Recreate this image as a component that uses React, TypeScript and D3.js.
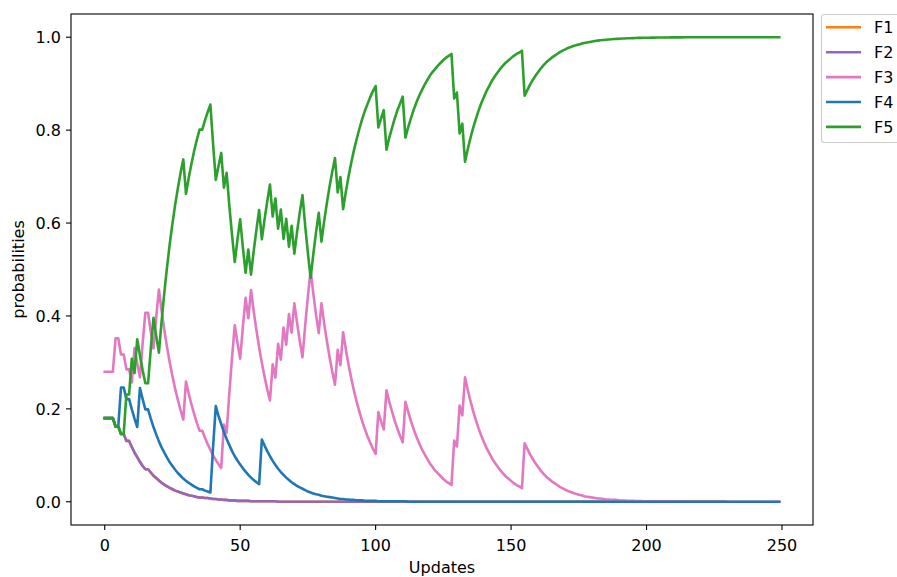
import React from 'react';
import * as d3 from 'd3';

// ---- data (one value per update, t = 0..249) ----
const seriesNames = ['F1', 'F2', 'F3', 'F4', 'F5'];
const seriesColors = ['#ff7f0e', '#9467bd', '#e377c2', '#1f77b4', '#2ca02c'];
const xTicks = [0, 50, 100, 150, 200, 250];
const yTicks = [0, 0.2, 0.4, 0.6, 0.8, 1.0];
const yTickLabels = ['0.0', '0.2', '0.4', '0.6', '0.8', '1.0'];

const f1 = [
  .18,.18,.18,.18,.162,.162,.146,.146,.131,.131,
  .118,.106,.096,.086,.077,.07,.07,.063,.056,.051,
  .046,.041,.037,.033,.03,.027,.024,.022,.02,.018,
  .016,.014,.013,.012,.01,.009,.009,.008,.008,.007,
  .006,.006,.005,.005,.004,.004,.003,.003,.003,.002,
  .002,.002,.002,.002,.001,.001,.001,.001,.001,.001,
  .001,.001,.001,.001,0,0,0,0,0,0,
  0,0,0,0,0,0,0,0,0,0, 0,0,0,0,0,0,0,0,0,0,
  0,0,0,0,0,0,0,0,0,0, 0,0,0,0,0,0,0,0,0,0,
  0,0,0,0,0,0,0,0,0,0, 0,0,0,0,0,0,0,0,0,0,
  0,0,0,0,0,0,0,0,0,0, 0,0,0,0,0,0,0,0,0,0,
  0,0,0,0,0,0,0,0,0,0, 0,0,0,0,0,0,0,0,0,0,
  0,0,0,0,0,0,0,0,0,0, 0,0,0,0,0,0,0,0,0,0,
  0,0,0,0,0,0,0,0,0,0, 0,0,0,0,0,0,0,0,0,0,
  0,0,0,0,0,0,0,0,0,0, 0,0,0,0,0,0,0,0,0,0,
];
const f2 = [
  .18,.18,.18,.18,.162,.162,.146,.146,.131,.131,
  .118,.106,.096,.086,.077,.07,.07,.063,.056,.051,
  .046,.041,.037,.033,.03,.027,.024,.022,.02,.018,
  .016,.014,.013,.012,.01,.009,.009,.008,.008,.007,
  .006,.006,.005,.005,.004,.004,.003,.003,.003,.002,
  .002,.002,.002,.002,.001,.001,.001,.001,.001,.001,
  .001,.001,.001,.001,0,0,0,0,0,0,
  0,0,0,0,0,0,0,0,0,0, 0,0,0,0,0,0,0,0,0,0,
  0,0,0,0,0,0,0,0,0,0, 0,0,0,0,0,0,0,0,0,0,
  0,0,0,0,0,0,0,0,0,0, 0,0,0,0,0,0,0,0,0,0,
  0,0,0,0,0,0,0,0,0,0, 0,0,0,0,0,0,0,0,0,0,
  0,0,0,0,0,0,0,0,0,0, 0,0,0,0,0,0,0,0,0,0,
  0,0,0,0,0,0,0,0,0,0, 0,0,0,0,0,0,0,0,0,0,
  0,0,0,0,0,0,0,0,0,0, 0,0,0,0,0,0,0,0,0,0,
  0,0,0,0,0,0,0,0,0,0, 0,0,0,0,0,0,0,0,0,0,
];
const f3 = [
  .28,.28,.28,.28,.352,.352,.317,.317,.285,.285,
  .257,.331,.298,.268,.341,.407,.407,.366,.33,.397,
  .457,.411,.37,.333,.3,.27,.243,.219,.197,.177,
  .259,.233,.21,.189,.17,.153,.153,.138,.124,.112,
  .1,.09,.081,.073,.166,.149,.234,.311,.38,.342,
  .308,.377,.439,.395,.456,.41,.369,.332,.299,.269,
  .242,.218,.296,.267,.34,.306,.375,.338,.404,.364,
  .427,.385,.346,.311,.38,.442,.498,.448,.403,.363,
  .427,.384,.346,.311,.28,.252,.327,.294,.365,.328,
  .295,.266,.239,.215,.194,.174,.157,.141,.127,.114,
  .103,.193,.173,.156,.24,.216,.195,.175,.158,.142,
  .128,.215,.194,.174,.157,.141,.127,.114,.103,.093,
  .083,.075,.067,.061,.055,.049,.044,.04,.036,.132,
  .119,.207,.186,.268,.241,.217,.195,.176,.158,.142,
  .128,.115,.104,.093,.084,.076,.068,.061,.055,.05,
  .045,.04,.036,.033,.029,.126,.114,.102,.092,.083,
  .075,.067,.06,.054,.049,.044,.04,.036,.032,.029,
  .026,.023,.021,.019,.017,.015,.014,.012,.011,.01,
  .009,.008,.007,.007,.006,.005,.005,.004,.004,.004,
  .0032,.0028,.0026,.0023,.0021,.0019,.0017,.0015,.0014,.0012,
  .0011,.001,.0009,.0008,.0007,.0006,.0006,.0005,.0005,.0004,
  .0004,.0003,.0003,.0003,.0002,.0002,.0002,.0002,.0002,.0001,
  .0001,.0001,.0001,.0001,.0001,.0001,.0001,.0001,.0001,.0001,
  0,0,0,0,0,0,0,0,0,0, 0,0,0,0,0,0,0,0,0,0,
];
const f4 = [
  .18,.18,.18,.18,.162,.162,.246,.246,.221,.221,
  .199,.179,.161,.245,.221,.199,.199,.179,.161,.145,
  .13,.117,.106,.095,.085,.077,.069,.062,.056,.05,
  .045,.041,.037,.033,.03,.027,.027,.024,.022,.02,
  .118,.206,.185,.167,.15,.135,.122,.109,.098,.089,
  .08,.072,.065,.058,.052,.047,.042,.038,.134,.121,
  .109,.098,.088,.079,.071,.064,.058,.052,.047,.042,
  .038,.034,.031,.028,.025,.022,.02,.018,.016,.015,
  .013,.012,.011,.01,.009,.008,.007,.006,.006,.005,
  .005,.004,.004,.003,.003,.003,.002,.002,.002,.002,
  .002,.001,.001,.001,.001,.001,.001,.001,.001,.001,
  .001,.001,0,0,0,0,0,0,0,0,
  0,0,0,0,0,0,0,0,0,0, 0,0,0,0,0,0,0,0,0,0,
  0,0,0,0,0,0,0,0,0,0, 0,0,0,0,0,0,0,0,0,0,
  0,0,0,0,0,0,0,0,0,0, 0,0,0,0,0,0,0,0,0,0,
  0,0,0,0,0,0,0,0,0,0, 0,0,0,0,0,0,0,0,0,0,
  0,0,0,0,0,0,0,0,0,0, 0,0,0,0,0,0,0,0,0,0,
  0,0,0,0,0,0,0,0,0,0, 0,0,0,0,0,0,0,0,0,0,
  0,0,0,0,0,0,0,0,0,0,
];
const f5 = [
  .18,.18,.18,.18,.162,.162,.146,.146,.231,.231,
  .308,.277,.35,.315,.283,.255,.255,.329,.396,.357,
  .321,.389,.45,.505,.555,.599,.639,.675,.708,.737,
  .663,.697,.727,.755,.779,.801,.801,.821,.839,.855,
  .77,.693,.723,.751,.676,.708,.637,.574,.516,.565,
  .608,.547,.493,.543,.489,.54,.586,.628,.565,.608,
  .647,.683,.614,.653,.588,.629,.566,.609,.549,.594,
  .534,.581,.623,.66,.594,.535,.482,.533,.58,.622,
  .56,.604,.643,.679,.711,.74,.666,.699,.63,.667,
  .7,.73,.757,.781,.803,.823,.841,.856,.871,.884,
  .895,.806,.825,.843,.758,.783,.804,.824,.842,.857,
  .872,.784,.806,.825,.843,.859,.873,.885,.897,.907,
  .917,.925,.932,.939,.945,.951,.956,.96,.964,.868,
  .881,.793,.814,.732,.759,.783,.805,.824,.842,.858,
  .872,.885,.896,.907,.916,.924,.932,.939,.945,.95,
  .955,.96,.964,.967,.971,.874,.886,.898,.908,.917,
  .925,.933,.94,.946,.951,.956,.96,.964,.968,.971,
  .974,.977,.979,.981,.983,.9846,.9862,.9876,.9888,.9899,
  .9909,.9918,.9927,.9934,.9941,.9946,.9952,.9957,.9961,.9965,
  .9968,.9972,.9974,.9977,.9979,.9981,.9983,.9985,.9986,.9988,
  .9989,.999,.9991,.9992,.9993,.9994,.9994,.9995,.9995,.9996,
  .9996,.9997,.9997,.9997,.9998,.9998,.9998,.9998,.9998,.9999,
  .9999,.9999,.9999,.9999,.9999,.9999,.9999,.9999,.9999,.9999,
  1,1,1,1,1,1,1,1,1,1, 1,1,1,1,1,1,1,1,1,1,
];

const seriesValues = [f1, f2, f3, f4, f5];

const FONT = 'DejaVu Sans, sans-serif';
const FS = 16;

export default function App() {
  const W = 897;
  const H = 577;
  const left = 71, right = 813, top = 14, bottom = 525;
  const n = f5.length;
  const x = d3.scaleLinear().domain([-(n - 1) * 0.05, (n - 1) * 1.05]).range([left, right]);
  const y = d3.scaleLinear().domain([-0.05, 1.05]).range([bottom, top]);
  const line = d3.line<number>().x((_, i) => x(i)).y((d) => y(d));

  return (
    <svg width={W} height={H} style={{ position: 'absolute', left: 0, top: 0, background: '#fff' }}
      fontFamily={FONT}>
      <rect x={0} y={0} width={W} height={H} fill="#fff" />
      <defs>
        <clipPath id="plotClip">
          <rect x={left} y={top} width={right - left} height={bottom - top} />
        </clipPath>
      </defs>
      <g clipPath="url(#plotClip)">
        {seriesValues.map((vals, k) => (
          <path key={seriesNames[k]} d={line(vals) || ''} fill="none" stroke={seriesColors[k]}
            strokeWidth={2.6} strokeLinejoin="round" strokeLinecap="square" />
        ))}
      </g>
      {/* frame */}
      <rect x={left} y={top} width={right - left} height={bottom - top} fill="none" stroke="#000" strokeWidth={1.1} />
      {/* x ticks */}
      {xTicks.map((t) => (
        <g key={'x' + t}>
          <line x1={x(t)} x2={x(t)} y1={bottom} y2={bottom + 5} stroke="#000" strokeWidth={1.1} />
          <text x={x(t)} y={bottom + 26} textAnchor="middle" fontSize={FS} fill="#000">{t}</text>
        </g>
      ))}
      {/* y ticks */}
      {yTicks.map((t, i) => (
        <g key={'y' + t}>
          <line x1={left - 5} x2={left} y1={y(t)} y2={y(t)} stroke="#000" strokeWidth={1.1} />
          <text x={left - 10} y={y(t) + 5.8} textAnchor="end" fontSize={FS} fill="#000">{yTickLabels[i]}</text>
        </g>
      ))}
      <text x={(left + right) / 2} y={573} textAnchor="middle" fontSize={FS} fill="#000">Updates</text>
      <text transform={`translate(24,${(top + bottom) / 2}) rotate(-90)`} textAnchor="middle" fontSize={FS} fill="#000">probabilities</text>
      {/* legend */}
      <rect x={821.5} y={14.5} width={90} height={128} rx={3} fill="#fff" fillOpacity={0.8} stroke="#cccccc" strokeWidth={1.1} />
      {seriesNames.map((name, k) => (
        <g key={'leg' + name}>
          <line x1={826} x2={861} y1={27.3 + k * 24.9} y2={27.3 + k * 24.9} stroke={seriesColors[k]} strokeWidth={2.6} />
          <text x={874} y={27.3 + k * 24.9 + 5.8} fontSize={FS} fill="#000">{name}</text>
        </g>
      ))}
    </svg>
  );
}
